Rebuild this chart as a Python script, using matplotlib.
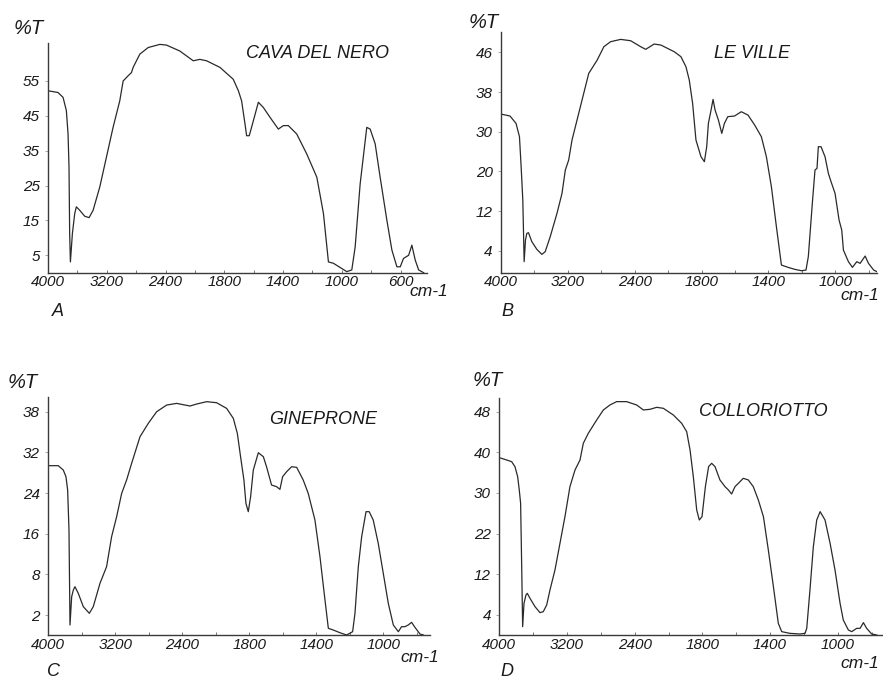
import numpy as np
import matplotlib
matplotlib.use("Agg")
import matplotlib.pyplot as plt
from matplotlib.ticker import FixedLocator, NullFormatter

plt.rcParams['font.family'] = ['Liberation Sans', 'DejaVu Sans']

# ---------------- data (wavenumber cm-1, %T) ----------------
A_wn = [4000, 3864, 3795, 3750, 3727, 3714, 3705, 3695, 3668, 3636, 3614, 3568, 3500, 3441, 3386, 3295,
        3205, 3114, 3023, 2977, 2909, 2864, 2841, 2750, 2636, 2477, 2390, 2254, 2117, 2049, 1981, 1844,
        1739, 1704, 1682, 1659, 1648, 1630, 1602, 1568, 1534, 1489, 1432, 1398, 1364, 1307, 1239, 1170,
        1125, 1091, 1057, 966, 932, 909, 875, 830, 807, 773, 739, 693, 659, 625, 602, 580, 545, 523,
        500, 477, 443]
A_T = [52.2, 51.7, 50.3, 46.5, 39.8, 30.3, 11.2, 3.1, 11.2, 17.0, 18.9, 17.9, 16.2, 15.8, 17.9, 24.6,
       33.1, 41.7, 49.3, 55.0, 56.5, 57.4, 58.9, 62.7, 64.6, 65.5, 65.3, 63.6, 60.8, 61.2, 60.8, 58.9,
       55.5, 52.2, 49.3, 42.7, 39.3, 39.3, 43.6, 48.9, 47.4, 44.6, 41.2, 42.2, 42.2, 39.8, 34.1, 27.4,
       17.0, 3.1, 2.7, 0.3, 0.8, 7.4, 25.5, 41.7, 41.2, 37.0, 27.4, 15.0, 6.5, 1.7, 1.7, 4.1, 5.0, 7.9,
       3.6, 0.8, 0.0]

B_wn = [4000, 3892, 3820, 3779, 3759, 3739, 3723, 3707, 3691, 3671, 3631, 3571, 3511, 3471, 3411, 3330,
        3270, 3230, 3190, 3150, 3050, 2950, 2849, 2769, 2689, 2568, 2448, 2346, 2301, 2226, 2165, 2045,
        1985, 1940, 1910, 1880, 1850, 1805, 1783, 1769, 1759, 1743, 1731, 1719, 1699, 1679, 1663, 1643,
        1603, 1562, 1522, 1482, 1442, 1412, 1382, 1352, 1322, 1282, 1242, 1202, 1175, 1161, 1137, 1121,
        1109, 1101, 1085, 1061, 1041, 1025, 1001, 977, 961, 951, 921, 897, 871, 851, 821, 801, 770, 750]
B_T = [33.56, 33.16, 31.68, 28.74, 21.18, 14.22, 2.0, 6.15, 7.50, 7.63, 5.82, 4.27, 3.33, 3.82, 6.82, 11.53,
       15.56, 20.34, 22.86, 27.90, 35.04, 41.76, 44.45, 47.14, 48.15, 48.62, 48.35, 47.14, 46.61, 47.68, 47.48, 46.13,
       45.13, 43.11, 40.42, 35.71, 27.90, 23.70, 22.44, 26.22, 31.68, 34.37, 36.52, 34.37, 32.35, 29.58, 31.68, 33.03,
       33.16, 34.03, 33.36, 31.34, 28.74, 23.70, 16.91, 8.84, 1.39, 0.97, 0.61, 0.36, 0.48, 2.91, 13.55, 20.34,
       20.76, 26.22, 26.22, 23.70, 19.60, 17.92, 15.56, 10.18, 8.17, 4.13, 2.0, 0.97, 2.0, 1.70, 3.03, 1.70, 0.48, 0.18]

C_wn = [4000, 3881, 3821, 3789, 3769, 3753, 3741, 3721, 3701, 3682, 3642, 3582, 3510, 3463, 3383, 3304,
        3244, 3184, 3124, 3065, 3005, 2905, 2806, 2706, 2587, 2468, 2331, 2272, 2182, 2093, 2003, 1943,
        1907, 1878, 1848, 1830, 1809, 1792, 1776, 1746, 1716, 1697, 1667, 1637, 1617, 1601, 1577, 1547,
        1517, 1478, 1448, 1408, 1378, 1348, 1328, 1299, 1259, 1219, 1183, 1169, 1149, 1129, 1103, 1084,
        1060, 1030, 1000, 970, 940, 910, 891, 871, 851, 831, 811, 781, 761]
C_T = [29.38, 29.38, 28.52, 27.21, 24.59, 16.72, 1.0, 4.70, 5.69, 6.18, 5.20, 3.23, 2.25, 3.23, 6.67, 9.51,
       15.41, 19.34, 23.93, 26.56, 29.84, 34.31, 36.28, 38.0, 38.98, 39.23, 38.84, 39.13, 39.48, 39.33, 38.49, 37.02,
       34.80, 31.15, 26.56, 21.97, 20.33, 23.28, 28.52, 31.93, 31.15, 29.18, 25.57, 25.25, 24.72, 27.21, 28.20, 29.18,
       29.05, 26.56, 23.93, 18.69, 11.48, 4.21, 0.67, 0.5, 0.23, 0.0, 0.33, 2.25, 9.51, 15.41, 20.33, 20.33,
       18.69, 14.10, 8.20, 3.72, 1.0, 0.33, 0.83, 0.83, 1.0, 1.27, 0.77, 0.1, 0.0]

D_wn = [4000, 3913, 3854, 3815, 3783, 3764, 3748, 3736, 3724, 3708, 3685, 3669, 3637, 3578, 3519, 3480,
        3440, 3401, 3342, 3283, 3224, 3165, 3105, 3046, 3007, 2948, 2849, 2770, 2692, 2613, 2495, 2382,
        2323, 2264, 2205, 2146, 2057, 1983, 1939, 1909, 1880, 1850, 1827, 1803, 1782, 1763, 1745, 1725,
        1696, 1666, 1646, 1627, 1607, 1587, 1558, 1528, 1499, 1469, 1439, 1410, 1380, 1351, 1331, 1282,
        1223, 1193, 1183, 1164, 1144, 1124, 1104, 1075, 1045, 1016, 986, 967, 937, 917, 888, 868,
        848, 829, 799, 769]
D_T = [38.69, 38.11, 37.70, 36.48, 34.02, 30.74, 27.97, 14.70, 1.67, 6.30, 7.93, 8.26, 7.28, 5.64, 4.46, 4.66,
       5.97, 8.92, 13.07, 19.62, 25.34, 31.56, 35.66, 38.11, 41.77, 43.74, 46.36, 48.33, 49.31, 49.97, 49.97, 49.31,
       48.33, 48.46, 48.85, 48.66, 47.34, 45.70, 44.07, 40.46, 34.02, 26.66, 24.69, 25.34, 31.56, 36.48, 37.30, 36.48,
       33.20, 31.56, 30.74, 29.80, 31.56, 32.38, 33.61, 33.20, 31.56, 28.62, 25.34, 17.98, 9.57, 2.33, 0.67, 0.33,
       0.2, 0.33, 1.33, 8.92, 18.80, 24.69, 26.33, 24.69, 19.62, 13.07, 6.30, 3.0, 1.0, 0.67, 1.33, 1.33,
       2.47, 1.33, 0.2, 0.0]

names = ["CAVA DEL NERO", "LE VILLE", "GINEPRONE", "COLLORIOTTO"]
letters = ["A", "B", "C", "D"]

A_xticks = [4000, 3200, 2400, 1800, 1400, 1000, 600]
B_xticks = [4000, 3200, 2400, 1800, 1400, 1000]
C_xticks = [4000, 3200, 2400, 1800, 1400, 1000]
D_xticks = [4000, 3200, 2400, 1800, 1400, 1000]

A_yticks = [5, 15, 25, 35, 45, 55]
B_yticks = [4, 12, 20, 30, 38, 46]
C_yticks = [2, 8, 16, 24, 32, 38]
D_yticks = [4, 12, 22, 30, 40, 48]

# ---------------- helpers ----------------
def piecewise(src, dst):
    s = np.asarray(src, float)
    d = np.asarray(dst, float)
    o = np.argsort(s)
    s, d = s[o], d[o]
    k0 = (d[1] - d[0]) / (s[1] - s[0])
    k1 = (d[-1] - d[-2]) / (s[-1] - s[-2])

    def f(x):
        x = np.asarray(x, float)
        y = np.interp(x, s, d)
        y = np.where(x < s[0], d[0] + (x - s[0]) * k0, y)
        y = np.where(x > s[-1], d[-1] + (x - s[-1]) * k1, y)
        return y
    return f

W, H = 883, 679
fig = plt.figure(figsize=(W / 100, H / 100), dpi=100)
fig.patch.set_facecolor("white")

# axes boxes in pixels: left, right, top, bottom
boxes = [(48, 427, 43, 272.7), (501, 877, 31.7, 272.7),
         (48.3, 430, 396.7, 635), (499.3, 881.7, 398.3, 635)]
xends = [420, 750, 721, 740]
yanchor = [
    ([0, 65.3], [0, 65.3], 65.9),
    ([0] + B_yticks, [0, 0.5546, 1.5546, 2.5546, 3.5546, 4.5546, 5.5546], 6.076),
    ([0] + C_yticks, [0, 0.4918, 1.4918, 2.4918, 3.4918, 4.4918, 5.4918], 5.861),
    ([0] + D_yticks, [0, 0.4918, 1.4918, 2.4918, 3.4918, 4.4918, 5.4918], 5.82),
]
series = [(A_wn, A_T), (B_wn, B_T), (C_wn, C_T), (D_wn, D_T)]
xticks_all = [A_xticks, B_xticks, C_xticks, D_xticks]
yticks_all = [A_yticks, B_yticks, C_yticks, D_yticks]

txt = "#1a1a1a"
tick_font = dict(fontsize=11, style="italic", color=txt)

for i in range(4):
    l, r, t, b = boxes[i]
    ax = fig.add_axes([l / W, 1 - b / H, (r - l) / W, (b - t) / H])
    ax.set_facecolor("none")
    xt = xticks_all[i]
    npos = -np.arange(len(xt), dtype=float)   # increasing with wavenumber
    xfwd = piecewise(xt, npos)
    xinv = piecewise(npos, xt)
    ax.set_xscale("function", functions=(xfwd, xinv))
    yv, yp, ytop = yanchor[i]
    yfwd = piecewise(yv, yp)
    yinv = piecewise(yp, yv)
    ax.set_yscale("function", functions=(yfwd, yinv))

    wn, T = series[i]
    ax.plot(wn, T, color="#2a2a2a", lw=0.9, solid_joinstyle="round")

    ax.set_xlim(4000, xends[i])
    ax.set_ylim(0, float(yinv(ytop)))

    for s in ["top", "right"]:
        ax.spines[s].set_visible(False)
    for s in ["left", "bottom"]:
        ax.spines[s].set_color("#3a3a3a")
        ax.spines[s].set_linewidth(1.0)

    ax.xaxis.set_major_locator(FixedLocator(xt))
    ax.set_xticklabels([str(v) for v in xt], **tick_font)
    minors = xinv(-np.arange(0.5, len(xt) + 0.5, 1.0))
    ax.xaxis.set_minor_locator(FixedLocator(minors))
    ax.xaxis.set_minor_formatter(NullFormatter())
    ax.tick_params(axis="x", which="both", direction="in", length=2.5, width=0.7,
                   color="#777777", pad=2)

    yt = yticks_all[i]
    ax.yaxis.set_major_locator(FixedLocator(yt))
    ax.set_yticklabels([str(v) for v in yt], **tick_font)
    ax.yaxis.set_minor_locator(FixedLocator([]))
    ax.tick_params(axis="y", which="major", direction="out", length=2, width=0.6,
                   color="#999999", pad=4)

def ftext(x, y, s, size, ha="center", va="center"):
    fig.text(x / W, 1 - y / H, s, fontsize=size, style="italic", color=txt, ha=ha, va=va)

# panel titles
ftext(317, 53, names[0], 13)
ftext(752, 53, names[1], 13)
ftext(323, 419, names[2], 13)
ftext(763, 412, names[3], 13)

# %T labels
ftext(29, 29, "%T", 14.5)
ftext(484, 22, "%T", 14.5)
ftext(23, 383, "%T", 14.5)
ftext(488, 380, "%T", 14.5)

# cm-1 labels
ftext(429, 292, "cm-1", 12.5)
ftext(860, 296, "cm-1", 12.5)
ftext(420, 658, "cm-1", 12.5)
ftext(860, 663, "cm-1", 12.5)

# panel letters
ftext(58, 312, letters[0], 13)
ftext(507, 312, letters[1], 13)
ftext(53, 672, letters[2], 13)
ftext(507, 672, letters[3], 13)

fig.savefig("out.png", dpi=100, facecolor="white")
